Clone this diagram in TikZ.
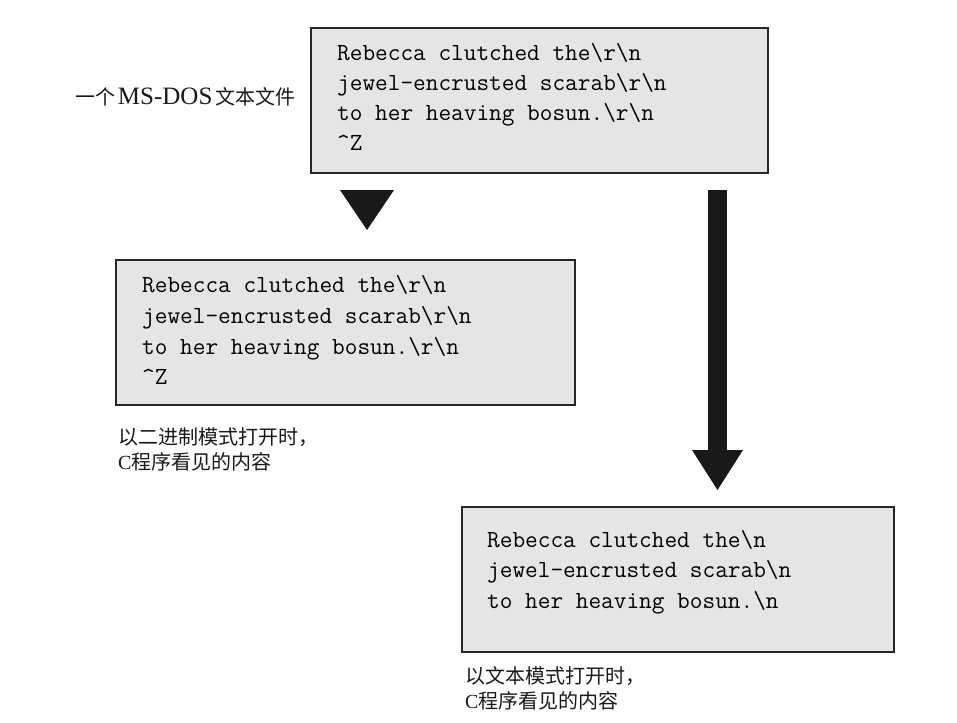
\documentclass[tikz,border=0pt]{standalone}
\usepackage{fontspec}
\setmainfont{Liberation Serif}
\newfontfamily\cjk{Noto Sans CJK SC}
\begin{document}
\begin{tikzpicture}[x=1pt,y=-1pt,
  textbox/.style={draw=black!85,line width=2.4pt,fill=black!10,inner sep=0pt,anchor=north west},
  codeline/.style={anchor=base west,inner sep=0pt,text=black,font=\ttfamily\fontsize{24.6}{30}\selectfont},
  caption/.style={anchor=west,inner sep=0pt,text=black!90,font=\fontsize{20}{25}\selectfont,align=left},
  arrowfill/.style={fill=black!90,draw=none}]
\useasboundingbox (0,0) rectangle (957,722);
% boxes
\node[textbox,minimum width=457pt,minimum height=145pt] (box1) at (310,27) {};
\node[textbox,minimum width=459pt,minimum height=145pt] (box2) at (115,259) {};
\node[textbox,minimum width=432pt,minimum height=145pt] (box3) at (461,506) {};
% box 1 text
\node[codeline] (a1) at (337,61) {Rebecca clutched the\textbackslash r\textbackslash n};
\node[codeline] (a2) at (337,91) {jewel-encrusted scarab\textbackslash r\textbackslash n};
\node[codeline] (a3) at (337,121) {to her heaving bosun.\textbackslash r\textbackslash n};
\node[codeline] (a4) at (337,151) {\^{}Z};
% box 2 text
\node[codeline] (b1) at (142,292) {Rebecca clutched the\textbackslash r\textbackslash n};
\node[codeline] (b2) at (142,323) {jewel-encrusted scarab\textbackslash r\textbackslash n};
\node[codeline] (b3) at (142,354) {to her heaving bosun.\textbackslash r\textbackslash n};
\node[codeline] (b4) at (142,384) {\^{}Z};
% box 3 text
\node[codeline] (c1) at (487,547) {Rebecca clutched the\textbackslash n};
\node[codeline] (c2) at (487,577) {jewel-encrusted scarab\textbackslash n};
\node[codeline] (c3) at (487,608) {to her heaving bosun.\textbackslash n};
% captions
\node[caption] (l1) at (75,97) {{\cjk 一个}\makebox[100pt]{\fontsize{25}{25}\selectfont MS-DOS}{\cjk 文本文件}};
\node[caption] (l2) at (118,449) {{\cjk 以二进制模式打开时，}\\C{\cjk 程序看见的内容}};
\node[caption] (l3) at (465,688) {{\cjk 以文本模式打开时，}\\C{\cjk 程序看见的内容}};
% arrows
\fill[arrowfill] (340,190) -- (394,190) -- (367,230) -- cycle;
\fill[arrowfill] (708,190) rectangle (727,452);
\fill[arrowfill] (692,450) -- (743,450) -- (717.5,490) -- cycle;
\end{tikzpicture}
\end{document}
